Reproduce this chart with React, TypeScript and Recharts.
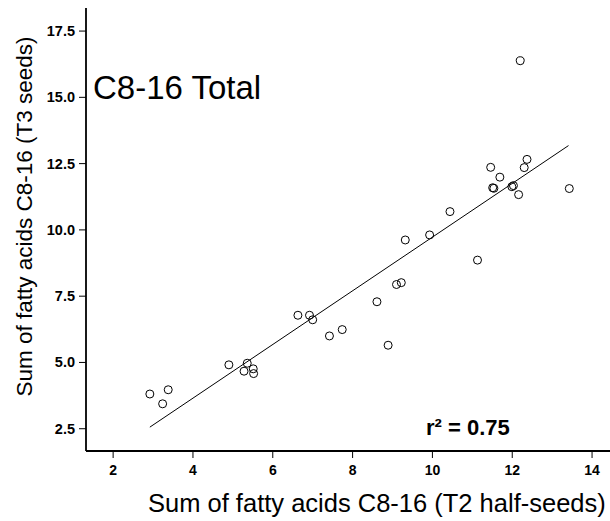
import React from "react";
import {
  ScatterChart,
  Scatter,
  XAxis,
  YAxis,
} from "recharts";

// T2 half-seeds (x) vs T3 seeds (y), sum of fatty acids C8-16
const t2Values = [
  2.92, 3.24, 3.38, 4.9, 5.36, 5.28, 5.51, 5.52, 6.63, 6.92, 7.0, 7.42, 7.74,
  8.61, 8.89, 9.1, 9.22, 9.32, 9.93, 10.44, 11.13, 11.46, 11.51, 11.54, 11.69,
  11.99, 12.03, 12.16, 12.2, 12.3, 12.37, 13.43,
];
const t3Values = [
  3.81, 3.44, 3.97, 4.91, 4.97, 4.67, 4.76, 4.58, 6.78, 6.78, 6.61, 6.0, 6.24,
  7.29, 5.65, 7.94, 8.01, 9.62, 9.81, 10.69, 8.86, 12.36, 11.59, 11.57, 11.99,
  11.63, 11.67, 11.33, 16.38, 12.35, 12.66, 11.56,
];

// regression line end points
const fitX = [2.92, 13.41];
const fitY = [2.56, 13.18];

const xTicks = [2, 4, 6, 8, 10, 12, 14];
const yTicks = [2.5, 5.0, 7.5, 10.0, 12.5, 15.0, 17.5];

const points = t2Values.map((x, i) => ({ x, y: t3Values[i] }));
const fitLine = fitX.map((x, i) => ({ x, y: fitY[i] }));

const font = "Arial, 'Liberation Sans', sans-serif";

// tick labels drawn by hand so the bold size sticks
const XTick = (props: any) => {
  const { x, y, payload } = props;
  return (
    <text x={x} y={y + 11} textAnchor="middle" fontSize={14} fontWeight="bold" fontFamily={font} fill="#000">
      {payload.value}
    </text>
  );
};

const YTick = (props: any) => {
  const { x, y, payload } = props;
  return (
    <text x={x} y={y + 5} textAnchor="end" fontSize={14.5} fontWeight="bold" fontFamily={font} fill="#000">
      {Number(payload.value).toFixed(1)}
    </text>
  );
};

const OpenCircle = (props: any) => (
  <circle cx={props.cx} cy={props.cy} r={4} fill="none" stroke="#000" strokeWidth={1} />
);

const NoDot = () => <g />;

const App = () => {
  return (
    <div
      style={{
        position: "absolute",
        left: 0,
        top: 0,
        width: 610,
        height: 521,
        overflow: "hidden",
        background: "#fff",
      }}
    >
      <ScatterChart
        width={640}
        height={521}
        margin={{ top: 8, right: 24, bottom: 0, left: 0 }}
      >
        <XAxis
          type="number"
          dataKey="x"
          domain={[1.32, 14.6]}
          ticks={xTicks}
          height={70}
          tickSize={7}
          tickMargin={6}
          tick={XTick}
          axisLine={{ stroke: "#000", strokeWidth: 1.8 }}
          tickLine={{ stroke: "#000" }}
          allowDataOverflow
        />
        <XAxis
          xAxisId="top"
          orientation="top"
          type="number"
          dataKey="x"
          domain={[1.32, 14.6]}
          height={0}
          tick={false}
          tickLine={false}
          axisLine={{ stroke: "#000", strokeWidth: 1.8 }}
        />
        <YAxis
          type="number"
          dataKey="y"
          domain={[1.66, 18.37]}
          ticks={yTicks}
          width={86}
          tickSize={7}
          tickMargin={4}
          tick={YTick}
          axisLine={{ stroke: "#000", strokeWidth: 1.8 }}
          tickLine={{ stroke: "#000" }}
          allowDataOverflow
        />
        <Scatter
          data={points}
          shape={OpenCircle}
          isAnimationActive={false}
        />
        <Scatter
          data={fitLine}
          line={{ stroke: "#000", strokeWidth: 1 }}
          shape={NoDot}
          isAnimationActive={false}
        />
        <text x={93} y={99} fontSize={33} fontFamily={font} fill="#000">
          C8-16 Total
        </text>
        <text x={426} y={435} fontSize={22} fontWeight="bold" fontFamily={font} fill="#000">
          r² = 0.75
        </text>
        <text x={148} y={512} fontSize={25.5} fontFamily={font} fill="#000">
          Sum of fatty acids C8-16 (T2 half-seeds)
        </text>
        <text
          x={32}
          y={216.5}
          fontSize={22.5}
          fontFamily={font}
          fill="#000"
          textAnchor="middle"
          transform="rotate(-90 32 216.5)"
        >
          Sum of fatty acids C8-16 (T3 seeds)
        </text>
      </ScatterChart>
    </div>
  );
};

export default App;
